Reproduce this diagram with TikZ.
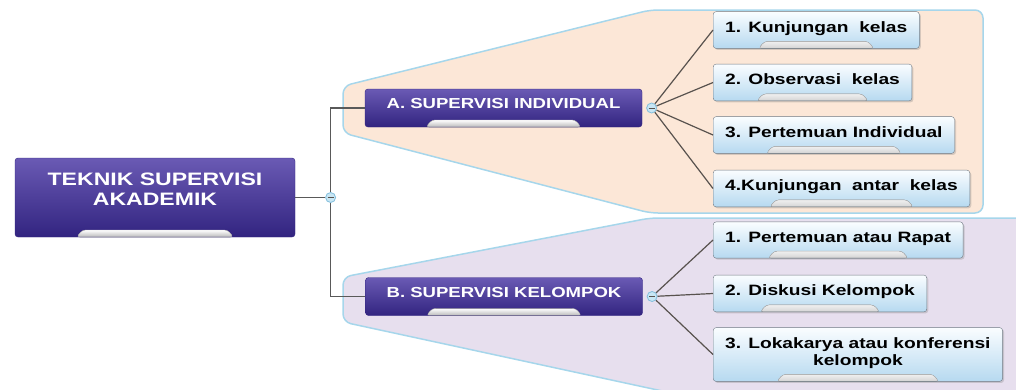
\documentclass[tikz,border=0pt]{standalone}
\usepackage{fontspec}
\newfontfamily\mapfont[FakeStretch=1.28]{Liberation Sans}
\usetikzlibrary{positioning,calc,shadows}

\definecolor{topicTop}{RGB}{106,90,180}
\definecolor{topicBot}{RGB}{50,36,128}
\definecolor{subTop}{RGB}{250,253,255}
\definecolor{subBot}{RGB}{182,217,240}
\definecolor{subLine}{RGB}{112,122,132}
\definecolor{peach}{RGB}{252,231,215}
\definecolor{lavender}{RGB}{231,223,238}
\definecolor{zoneLine}{RGB}{166,214,235}
\definecolor{linkLine}{RGB}{88,82,78}
\definecolor{knobFill}{RGB}{200,230,244}
\definecolor{knobLine}{RGB}{130,190,220}

\begin{document}
\begin{tikzpicture}[x=1pt, y=-1pt]
  \tikzset{
    zone/.style={draw=zoneLine, line width=1.5pt, rounded corners=8pt},
    basetab/.style={path picture={
        \path (path picture bounding box.south west) coordinate (sw)
              (path picture bounding box.south east) coordinate (se);
        \filldraw[#1] ($(sw)!0.22!(se)$) -- ++(6pt,7pt)
          -- ($(sw)!0.78!(se)+(-6pt,7pt)$) -- ($(sw)!0.78!(se)$) -- cycle;
      }},
    topic/.style={draw=topicBot, rounded corners=3pt,
      top color=topicTop, bottom color=topicBot, text=white,
      font=\mapfont\bfseries\fontsize{14.5}{17}\selectfont,
      minimum width=277pt, minimum height=38pt, text depth=9pt,
      basetab={top color=white, bottom color=gray!55, draw=gray!50}},
    root/.style={topic, align=center,
      font=\mapfont\bfseries\fontsize{18}{20}\selectfont,
      minimum width=280pt, minimum height=79pt, text depth=16pt},
    sub/.style={draw=subLine, rounded corners=3pt,
      top color=subTop, bottom color=subBot, text=black,
      font=\mapfont\bfseries\fontsize{15}{17}\selectfont,
      anchor=west, align=center, inner xsep=12pt, inner ysep=10pt,
      minimum height=36pt, text depth=6pt,
      drop shadow={shadow xshift=1.5pt, shadow yshift=-1.5pt, opacity=0.3},
      basetab={top color=gray!12, bottom color=gray!35, draw=gray!60}},
    knob/.style={circle, draw=knobLine, fill=knobFill, line width=0.8pt,
      minimum size=10pt, inner sep=0pt,
      path picture={\draw[linkLine, line width=1pt]
        ([xshift=-3pt]path picture bounding box.center) --
        ([xshift=3pt]path picture bounding box.center);}},
    link/.style={draw=linkLine, line width=1.2pt},
    spine/.style={draw=gray!70!black, line width=1.2pt},
  }
  \useasboundingbox (0,0) rectangle (1016,389);

  % background zones
  \begin{scope}
    \clip (0,0) rectangle (1016,389);
    \filldraw[zone, fill=peach] (343,110) -- (343,86) -- (650,10) -- (983,10)
      -- (983,213) -- (650,213) -- (343,133) -- cycle;
    \filldraw[zone, fill=lavender] (343,300) -- (343,277) -- (650,218) -- (1030,218)
      -- (1030,440) -- (889,440) -- (343,322) -- cycle;
  \end{scope}

  % main topics
  \node[root] (root) at (155,197.5) {TEKNIK SUPERVISI\\AKADEMIK};
  \node[topic] (indiv) at (503.5,108) {A. SUPERVISI INDIVIDUAL};
  \node[topic] (group) at (504,296.5) {B. SUPERVISI KELOMPOK};

  \node[knob, right=30pt of root] (rootknob) {};
  \node[knob, right=4pt of indiv] (indivknob) {};
  \node[knob, right=4pt of group] (groupknob) {};

  % individual subtopics
  \node[sub] (ind1) at (713,30) {1. Kunjungan~ kelas};
  \node[sub] (ind2) at (713,82.5) {2. Observasi~ kelas};
  \node[sub] (ind3) at (713,135) {3. Pertemuan Individual};
  \node[sub] (ind4) at (713,188.5) {4.Kunjungan~ antar~ kelas};

  % group subtopics
  \node[sub] (grp1) at (713,240) {1. Pertemuan atau Rapat};
  \node[sub] (grp2) at (713,293.5) {2. Diskusi Kelompok};
  \node[sub] (grp3) at (713,354.5) {3. Lokakarya atau konferensi\\kelompok};

  % connectors
  \draw[spine] (root.east) -- (rootknob.west);
  \draw[spine] (indiv.west) -| (rootknob.north);
  \draw[spine] (group.west) -| (rootknob.south);
  \foreach \c in {ind1,ind2,ind3,ind4}
    \draw[link] (indivknob) -- (\c.west);
  \foreach \c in {grp1,grp2,grp3}
    \draw[link] (groupknob) -- (\c.west);
\end{tikzpicture}
\end{document}
